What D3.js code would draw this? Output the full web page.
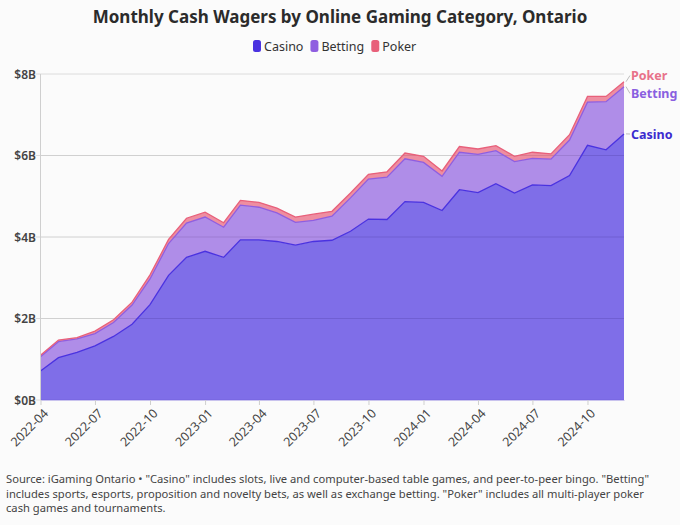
<!DOCTYPE html>
<html>
<head>
<meta charset="utf-8">
<script src="https://cdn.jsdelivr.net/npm/d3@7"></script>
<style>
  body { margin: 0; background: #fbfbfb; }
  svg { display: block; font-family: "Noto Sans", "Open Sans", sans-serif; }
</style>
</head>
<body>
<div id="chart"></div>
<script>
// monthly wagers, billions of dollars, Apr 2022 .. Dec 2024
const months = ["2022-04","2022-05","2022-06","2022-07","2022-08","2022-09","2022-10","2022-11","2022-12",
  "2023-01","2023-02","2023-03","2023-04","2023-05","2023-06","2023-07","2023-08","2023-09","2023-10","2023-11","2023-12",
  "2024-01","2024-02","2024-03","2024-04","2024-05","2024-06","2024-07","2024-08","2024-09","2024-10","2024-11","2024-12"];
const casino  = [0.71,1.04,1.17,1.33,1.56,1.86,2.34,3.06,3.50,3.65,3.50,3.93,3.93,3.89,3.80,3.89,3.92,4.14,4.44,4.43,4.87,4.85,4.65,5.16,5.09,5.31,5.08,5.28,5.26,5.51,6.25,6.14,6.53];
const betting = [0.35,0.39,0.33,0.30,0.34,0.47,0.63,0.78,0.84,0.84,0.74,0.85,0.80,0.70,0.56,0.52,0.59,0.82,0.98,1.04,1.05,0.98,0.84,0.92,0.94,0.81,0.77,0.65,0.65,0.87,1.06,1.18,1.16];
const poker   = [0.04,0.04,0.03,0.06,0.07,0.07,0.10,0.10,0.12,0.12,0.11,0.12,0.12,0.12,0.13,0.15,0.12,0.12,0.12,0.13,0.14,0.15,0.13,0.14,0.13,0.12,0.13,0.15,0.13,0.13,0.14,0.13,0.12];
const categories = ["Casino", "Betting", "Poker"];
const yTicks = [0, 2, 4, 6, 8];

const colors = { Casino: "#4a32e0", Betting: "#8f5ee0", Poker: "#e8607a" };
const labelColors = { Casino: "#3b2bcf", Betting: "#8a5fe0", Poker: "#e8728a" };

const W = 680, H = 525;
const margin = { top: 74, right: 56, bottom: 125, left: 40.5 };

const parse = d3.timeParse("%Y-%m");
const rows = months.map((m, i) => ({ date: parse(m), Casino: casino[i], Betting: betting[i], Poker: poker[i] }));

const svg = d3.select("#chart").append("svg").attr("width", W).attr("height", H);

const x = d3.scaleTime()
  .domain(d3.extent(rows, d => d.date))
  .range([margin.left, W - margin.right]);
const y = d3.scaleLinear().domain([0, 8]).range([H - margin.bottom, margin.top]);

// title + legend
svg.append("text")
  .attr("x", W / 2).attr("y", 23)
  .attr("text-anchor", "middle")
  .attr("font-size", 17).attr("font-weight", 700).attr("fill", "#2b2b2b")
  .text("Monthly Cash Wagers by Online Gaming Category, Ontario");

const legend = svg.append("g").attr("transform", "translate(253,46)");
let lx = 0;
categories.forEach(c => {
  const g = legend.append("g").attr("transform", `translate(${lx},0)`);
  g.append("rect").attr("x", 0).attr("y", -6).attr("width", 8).attr("height", 12).attr("rx", 2.5)
    .attr("fill", colors[c]);
  const t = g.append("text").attr("x", 11).attr("y", 4.5)
    .attr("font-size", 12.5).attr("fill", "#333").text(c);
  lx += 11 + t.node().getComputedTextLength() + 7;
});

// grid
svg.append("g")
  .selectAll("line")
  .data(yTicks)
  .join("line")
  .attr("x1", margin.left - 5).attr("x2", W - margin.right)
  .attr("y1", d => y(d)).attr("y2", d => y(d))
  .attr("stroke", "#dcdcdc").attr("stroke-width", 1);

// stacked areas
const series = d3.stack().keys(categories)(rows);
const area = d3.area()
  .x(d => x(d.data.date))
  .y0(d => y(d[0]))
  .y1(d => y(d[1]));
const topLine = d3.line()
  .x(d => x(d.data.date))
  .y(d => y(d[1]));

svg.append("g")
  .selectAll("path")
  .data(series)
  .join("path")
  .attr("d", area)
  .attr("fill", d => colors[d.key])
  .attr("fill-opacity", 0.7);

// grid showing faintly through the fill
svg.append("g")
  .selectAll("line")
  .data(yTicks.slice(1, 4))
  .join("line")
  .attr("x1", margin.left).attr("x2", W - margin.right)
  .attr("y1", d => y(d)).attr("y2", d => y(d))
  .attr("stroke", "#000").attr("stroke-opacity", 0.05);

svg.append("g")
  .selectAll("path")
  .data(series)
  .join("path")
  .attr("d", topLine)
  .attr("fill", "none")
  .attr("stroke", d => colors[d.key])
  .attr("stroke-width", 1.3);

// axes
svg.append("line")
  .attr("x1", margin.left).attr("x2", margin.left)
  .attr("y1", y(8)).attr("y2", y(0))
  .attr("stroke", "#cfcfcf");

svg.append("g")
  .selectAll("text")
  .data(yTicks)
  .join("text")
  .attr("x", 36).attr("y", d => y(d) + 4.5)
  .attr("text-anchor", "end")
  .attr("font-size", 12).attr("font-weight", 600).attr("fill", "#444")
  .text(d => `$${d}B`);

const xAxis = svg.append("g")
  .attr("transform", `translate(0,${y(0)})`)
  .call(d3.axisBottom(x).ticks(d3.timeMonth.every(3)).tickFormat(d3.timeFormat("%Y-%m")).tickSize(5).tickSizeOuter(0));
xAxis.select(".domain").attr("stroke", "#c9c3ee");
xAxis.selectAll(".tick line").attr("stroke", "#cfcfcf");
xAxis.selectAll(".tick text")
  .attr("font-family", "\"Noto Sans\", sans-serif")
  .attr("font-size", 12.5).attr("fill", "#444")
  .attr("text-anchor", "end")
  .attr("x", 0).attr("y", 0)
  .attr("dx", 0).attr("dy", "0.35em")
  .attr("transform", "translate(5,11) rotate(-45)");

// end labels with short leaders
const last = rows.length - 1;
const endX = x(rows[last].date);
const labelY = { Poker: 75.5, Betting: 93.5, Casino: 134 };
series.forEach(s => {
  const yv = y(s[last][1]);
  svg.append("path")
    .attr("d", `M${endX + 2},${yv} L${endX + 6},${labelY[s.key]}`)
    .attr("stroke", "#bdbdbd").attr("fill", "none");
  svg.append("text")
    .attr("x", endX + 7).attr("y", labelY[s.key] + 4.5)
    .attr("font-size", 12.5).attr("font-weight", 700)
    .attr("fill", labelColors[s.key])
    .text(s.key);
});

// footnote
const notes = [
  "Source: iGaming Ontario \u2022 \"Casino\" includes slots, live and computer-based table games, and peer-to-peer bingo. \"Betting\"",
  "includes sports, esports, proposition and novelty bets, as well as exchange betting. \"Poker\" includes all multi-player poker",
  "cash games and tournaments."
];
svg.append("g")
  .selectAll("text")
  .data(notes)
  .join("text")
  .attr("x", 6).attr("y", (d, i) => 483 + i * 14.5)
  .attr("font-size", 11.2).attr("fill", "#444")
  .text(d => d);
</script>
</body>
</html>
